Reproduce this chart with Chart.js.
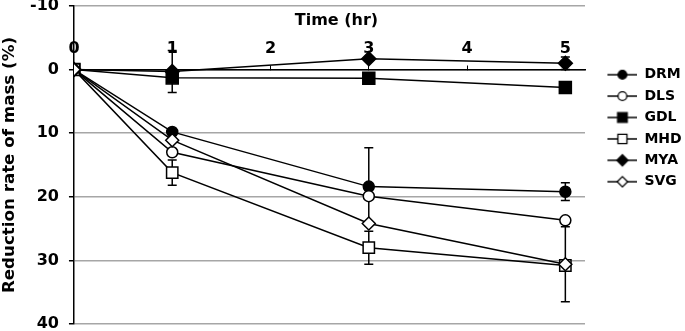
<!DOCTYPE html>
<html>
<head>
<meta charset="utf-8">
<script src="https://cdn.jsdelivr.net/npm/chart.js@4.4.0/dist/chart.umd.min.js"></script>
<style>
  html, body { margin: 0; padding: 0; background: #fff; overflow: hidden; }
  /* canvas nudged up a few px so the top gridline sits near the edge */
  #wrap { width: 685px; height: 338px; margin-top: -4px; }
</style>
</head>
<body>
<div id="wrap"><canvas id="chart1"></canvas></div>
<script>
// Data
const times = [0, 1, 3, 5];
const xTicks = [0, 1, 2, 3, 4, 5];
const yTicks = [-10, 0, 10, 20, 30, 40];

const names = ["DRM", "DLS", "GDL", "MHD", "MYA", "SVG"];
const drm = [0, 9.8, 18.4, 19.2];
const dls = [0, 13.0, 19.9, 23.7];
const gdl = [0, 1.3, 1.35, 2.8];
const mhd = [0, 16.2, 28.0, 30.8];
const mya = [0, 0.3, -1.7, -1.0];
const svg = [0, 11.1, 24.2, 30.6];

// error bar half lengths (0 = none visible)
const drmErr = [0, 0, 6.1, 1.4];
const dlsErr = [0, 0, 0, 0];
const gdlErr = [0, 0, 0, 0];
const mhdErr = [0, 2.0, 2.6, 0];
const myaErr = [0, 3.3, 0, 1.0];
const svgErr = [0, 0, 0, 5.9];

const values = [drm, dls, gdl, mhd, mya, svg];
const errors = [drmErr, dlsErr, gdlErr, mhdErr, myaErr, svgErr];
const styles = ["circle", "circle", "rect", "rect", "rectRot", "rectRot"];
const fills = ["#000", "#fff", "#000", "#fff", "#000", "#fff"];
const radii = [5.5, 5.5, 8.5, 8, 7, 6.5];

const FONT = "'DejaVu Sans', Verdana, sans-serif";
Chart.defaults.font.family = FONT;
Chart.defaults.color = "#000";

// legend icon: short line with the marker in the middle
function makeIcon(i) {
    const c = document.createElement('canvas');
    c.width = 45;
    c.height = 16;
    const g = c.getContext('2d');
    g.strokeStyle = '#000';
    g.lineWidth = 1.5;
    g.beginPath();
    g.moveTo(15, 8);
    g.lineTo(45, 8);
    g.stroke();
    g.fillStyle = fills[i];
    g.lineWidth = 1.3;
    Chart.helpers.drawPoint(g, {pointStyle: styles[i], radius: radii[i] * 0.8, rotation: 0, borderWidth: 1.3}, 30, 8);
    return c;
}

const errorBars = {
    id: 'errorBars',
    beforeDatasetsDraw(chart) {
        const ctx = chart.ctx;
        const xs = chart.scales.x, ys = chart.scales.y;
        ctx.save();
        ctx.strokeStyle = '#000';
        ctx.lineWidth = 1.5;
        errors.forEach(function (errs, d) {
            errs.forEach(function (e, i) {
                if (!e) return;
                const x = xs.getPixelForValue(times[i]);
                const y1 = ys.getPixelForValue(values[d][i] - e);
                const y2 = ys.getPixelForValue(values[d][i] + e);
                ctx.beginPath();
                ctx.moveTo(x, y1); ctx.lineTo(x, y2);
                ctx.moveTo(x - 4.5, y1); ctx.lineTo(x + 4.5, y1);
                ctx.moveTo(x - 4.5, y2); ctx.lineTo(x + 4.5, y2);
                ctx.stroke();
            });
        });
        ctx.restore();
    }
};

// x axis title sits inside the plot, above the tick labels
const timeTitle = {
    id: 'timeTitle',
    afterDraw(chart) {
        const ctx = chart.ctx;
        const a = chart.chartArea;
        ctx.save();
        ctx.font = "bold 16px " + FONT;
        ctx.fillStyle = '#000';
        ctx.textAlign = 'center';
        ctx.textBaseline = 'middle';
        ctx.fillText("Time (hr)", (a.left + a.right) / 2 + 7, a.top + 15);
        ctx.restore();
    }
};

function noPad(s) {
    s.paddingTop = 0;
    s.paddingBottom = 0;
    s.paddingLeft = 0;
    s.paddingRight = 0;
}

const datasets = names.map(function (n, i) {
    return {
        label: n,
        data: times.map((t, k) => ({x: t, y: values[i][k]})),
        borderColor: '#000',
        borderWidth: 1.5,
        pointStyle: styles[i],
        pointRadius: radii[i],
        pointBackgroundColor: fills[i],
        pointBorderColor: '#000',
        pointBorderWidth: 1.5,
        fill: false,
        tension: 0,
        order: names.length - i
    };
});

const ctx = document.getElementById('chart1').getContext('2d');
const chart = new Chart(ctx, {
    type: 'line',
    data: {datasets: datasets},
    plugins: [errorBars, timeTitle],
    options: {
        responsive: true,
        maintainAspectRatio: false,
        animation: false,
        layout: {padding: {left: 0, top: 4.7, bottom: 8, right: 0}},
        plugins: {
            tooltip: {enabled: false},
            legend: {
                position: 'right',
                align: 'start',
                maxWidth: 100,
                title: {display: true, text: ' ', padding: {top: 42.8, bottom: 0}, font: {size: 14}},
                labels: {
                    usePointStyle: true,
                    pointStyleWidth: 45,
                    padding: 7.4,
                    font: {size: 14, weight: 'bold'},
                    color: '#000',
                    generateLabels: function (ch) {
                        return ch.data.datasets.map((ds, i) => ({
                            text: ds.label,
                            pointStyle: makeIcon(i),
                            datasetIndex: i,
                            hidden: false,
                            lineWidth: 0,
                            fontColor: '#000'
                        }));
                    }
                }
            }
        },
        scales: {
            x: {
                type: 'linear',
                position: {y: 0},
                min: 0,
                max: 5.2,
                afterBuildTicks: function (s) { s.ticks = xTicks.map(v => ({value: v})); },
                afterFit: noPad,
                grid: {drawOnChartArea: false, tickLength: -5, tickColor: '#000', tickWidth: 1},
                border: {color: '#000', width: 1.5},
                ticks: {padding: -20, font: {size: 16, weight: 'bold', lineHeight: 0.5}, color: '#000', maxRotation: 0}
            },
            y: {
                type: 'linear',
                reverse: true,
                min: -10,
                max: 40,
                afterBuildTicks: function (s) { s.ticks = yTicks.map(v => ({value: v})); },
                afterFit: noPad,
                grid: {color: '#a6a6a6', lineWidth: 1.5, tickColor: '#000', tickLength: 5, tickWidth: 1.5},
                border: {color: '#000', width: 1.5},
                ticks: {padding: 10, font: {size: 16, weight: 'bold', lineHeight: 0.5}, color: '#000'},
                title: {
                    display: true,
                    text: 'Reduction rate of mass (%)',
                    font: {size: 16.7, weight: 'bold'},
                    color: '#000',
                    padding: {top: 0, bottom: 0}
                }
            }
        }
    }
});
</script>
</body>
</html>
